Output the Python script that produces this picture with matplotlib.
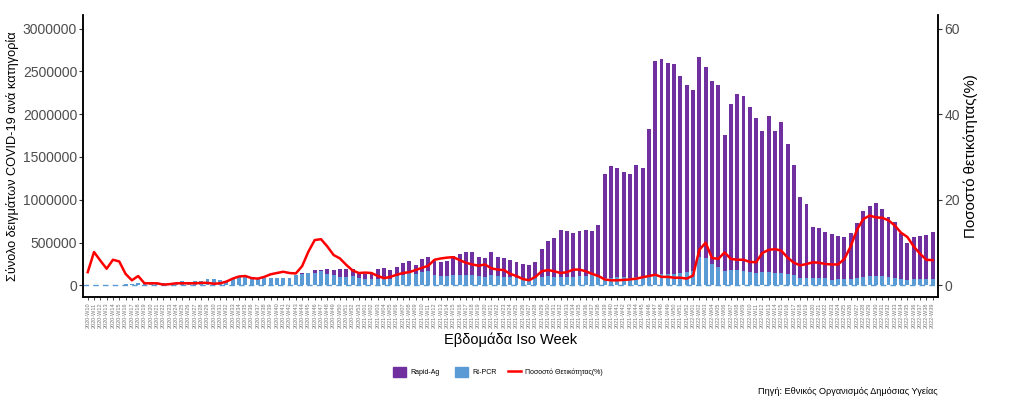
import matplotlib
matplotlib.use("Agg")
import matplotlib.pyplot as plt
from matplotlib.patches import Patch
from matplotlib.lines import Line2D

plt.rcParams["font.family"] = ["Liberation Sans", "DejaVu Sans"]

# ISO weeks 2020-W10 ... 2022-W39
weeks = []
for year, first, last in [(2020, 10, 53), (2021, 1, 52), (2022, 1, 39)]:
    for w in range(first, last + 1):
        weeks.append(f"{year}-W{w:02d}")

# RT-PCR samples per week
pcr = [
    2000, 3000, 5000, 6000, 8000, 10000, 12000, 15000, 23000, 31000,
    31000, 31000, 31000, 31000, 33000, 47000, 35000, 47000, 47000, 70000,
    70000, 58000, 47000, 78000, 93000, 93000, 78000, 78000, 86000, 82000,
    82000, 82000, 82000, 117000, 128000, 148000, 148000, 163000, 128000, 117000,
    101000, 101000, 109000, 82000, 76000, 70000, 70000, 70000, 78000, 109000,
    117000, 140000, 128000, 152000, 163000, 117000, 105000, 105000, 117000, 117000,
    117000, 117000, 105000, 93000, 117000, 105000, 93000, 93000, 82000, 70000,
    58000, 82000, 93000, 105000, 93000, 93000, 93000, 93000, 105000, 105000,
    117000, 97000, 90000, 90000, 97000, 97000, 90000, 97000, 100000, 117000,
    128000, 128000, 128000, 136000, 148000, 156000, 167000, 330000, 319000, 245000,
    214000, 167000, 179000, 179000, 167000, 156000, 140000, 156000, 160000, 140000,
    150000, 130000, 117000, 82000, 90000, 82000, 82000, 82000, 66000, 70000,
    70000, 70000, 90000, 94000, 105000, 105000, 105000, 98000, 82000, 70000,
    58000, 70000, 70000, 70000, 70000,
]

# total samples per week (RT-PCR + Rapid-Ag)
total = [
    2000, 3000, 5000, 6000, 8000, 10000, 12000, 15000, 23000, 31000,
    31000, 31000, 31000, 31000, 33000, 47000, 35000, 47000, 47000, 70000,
    70000, 58000, 47000, 78000, 93000, 93000, 78000, 78000, 86000, 82000,
    82000, 82000, 82000, 117000, 148000, 150000, 175000, 175000, 187000, 175000,
    187000, 187000, 195000, 140000, 136000, 148000, 187000, 198000, 175000, 210000,
    257000, 280000, 233000, 303000, 327000, 280000, 268000, 280000, 338000, 362000,
    385000, 385000, 327000, 315000, 385000, 327000, 315000, 292000, 268000, 245000,
    233000, 268000, 420000, 514000, 549000, 642000, 630000, 607000, 630000, 642000,
    630000, 700000, 1307000, 1389000, 1366000, 1319000, 1296000, 1401000, 1366000, 1821000,
    2626000, 2650000, 2603000, 2591000, 2440000, 2335000, 2288000, 2673000, 2556000, 2393000,
    2335000, 1751000, 2113000, 2230000, 2218000, 2078000, 1961000, 1798000, 1984000, 1809000,
    1914000, 1646000, 1412000, 1027000, 946000, 677000, 665000, 619000, 595000, 572000,
    560000, 607000, 724000, 864000, 922000, 957000, 887000, 805000, 735000, 607000,
    490000, 560000, 572000, 584000, 619000,
]

rapid = [t - p for t, p in zip(total, pcr)]

# positivity rate (%)
positivity = [
    3.1, 7.8, 5.8, 3.9, 6.0, 5.6, 2.7, 1.2, 2.2, 0.5,
    0.5, 0.5, 0.2, 0.3, 0.5, 0.5, 0.5, 0.5, 0.6, 0.6,
    0.4, 0.5, 0.9, 1.6, 2.1, 2.2, 1.7, 1.6, 2.0, 2.6,
    2.9, 3.2, 2.9, 2.8, 4.5, 7.9, 10.6, 10.8, 9.1, 7.1,
    6.3, 4.8, 3.5, 2.9, 3.0, 2.9, 2.2, 1.7, 2.0, 2.5,
    2.9, 3.1, 3.6, 4.1, 4.6, 6.0, 6.3, 6.5, 6.6, 5.9,
    5.3, 4.9, 4.6, 4.9, 4.0, 3.7, 3.6, 2.7, 2.2, 1.5,
    1.2, 2.0, 3.3, 3.6, 3.3, 2.9, 3.1, 3.7, 3.7, 3.3,
    2.7, 2.2, 1.4, 1.2, 1.2, 1.3, 1.4, 1.6, 1.9, 2.2,
    2.5, 2.0, 2.0, 1.8, 1.8, 1.6, 2.3, 8.3, 10.0, 6.4,
    6.2, 7.7, 6.2, 6.0, 6.0, 5.5, 5.4, 7.6, 8.3, 8.5,
    8.1, 6.5, 5.3, 4.7, 5.0, 5.4, 5.3, 5.0, 4.9, 4.9,
    6.2, 9.1, 13.0, 15.5, 16.3, 15.9, 15.8, 15.2, 14.0, 12.3,
    11.3, 9.1, 7.4, 6.0, 5.9,
]

purple = "#7030A0"
blue = "#5B9BD5"
red = "#FF0000"
scale = 50000  # 1% positivity = 50000 samples

x = list(range(len(weeks)))

fig = plt.figure(figsize=(10.17, 3.97), dpi=100)
ax = fig.add_axes([0.0813, 0.2519, 0.8407, 0.7103])

ax.bar(x, pcr, width=0.62, color=blue, zorder=2)
ax.bar(x, rapid, width=0.62, bottom=pcr, color=purple, zorder=2)
ax.axhline(0, color=blue, linestyle=(0, (4, 3)), linewidth=1, zorder=3)

ymin, ymax = -135000, 3158000
ax.set_ylim(ymin, ymax)
ax.set_xlim(-0.8, len(weeks) - 0.2)
ax.set_yticks([0, 500000, 1000000, 1500000, 2000000, 2500000, 3000000])
ax.set_yticklabels(["0", "500000", "1000000", "1500000", "2000000", "2500000", "3000000"])
ax.set_xticks(x)
ax.set_xticklabels(weeks, rotation=90, fontsize=4, color="#777777")
ax.tick_params(axis="y", labelsize=10, labelcolor="#4D4D4D", length=3, color="#333333", pad=1)
ax.tick_params(axis="x", length=2.5, width=0.6, color="#333333", pad=1.5)
ax.set_ylabel("Σύνολο δειγμάτων COVID-19 ανά κατηγορία", fontsize=9.2, labelpad=3)
ax.set_xlabel("Εβδομάδα Iso Week", fontsize=10.5, labelpad=3)

ax2 = ax.twinx()
ax2.plot(x, positivity, color=red, linewidth=1.8, zorder=4)
ax2.set_ylim(ymin / scale, ymax / scale)
ax2.set_yticks([0, 20, 40, 60])
ax2.tick_params(axis="y", labelsize=10, labelcolor="#4D4D4D", length=3, color="#333333", pad=2)
ax2.set_ylabel("Ποσοστό θετικότητας(%)", fontsize=10.8, labelpad=2)

for a in (ax, ax2):
    a.spines["top"].set_visible(False)
    for s in ("left", "right", "bottom"):
        a.spines[s].set_linewidth(1.1)
        a.spines[s].set_color("black")

fill_handles = [Patch(color=purple, label="Rapid-Ag"), Patch(color=blue, label="Rt-PCR")]
fig.legend(handles=fill_handles, loc="center left", bbox_to_anchor=(393 / 1017, 1 - 372 / 397),
           ncol=2, frameon=False, fontsize=5, handlelength=1.9, handleheight=1.9,
           handletextpad=0.6, columnspacing=2.2, borderpad=0, borderaxespad=0)
line_handles = [Line2D([0], [0], color=red, linewidth=1.8, label="Ποσοστό Θετικότητας(%)")]
fig.legend(handles=line_handles, loc="center left", bbox_to_anchor=(508 / 1017, 1 - 372 / 397),
           frameon=False, fontsize=5, handlelength=1.8, handletextpad=0.6,
           borderpad=0, borderaxespad=0)

fig.text(938 / 1017, 1 - 391 / 397, "Πηγή: Εθνικός Οργανισμός Δημόσιας Υγείας",
         ha="right", va="center", fontsize=6.6)

fig.savefig("out.png", dpi=100)
